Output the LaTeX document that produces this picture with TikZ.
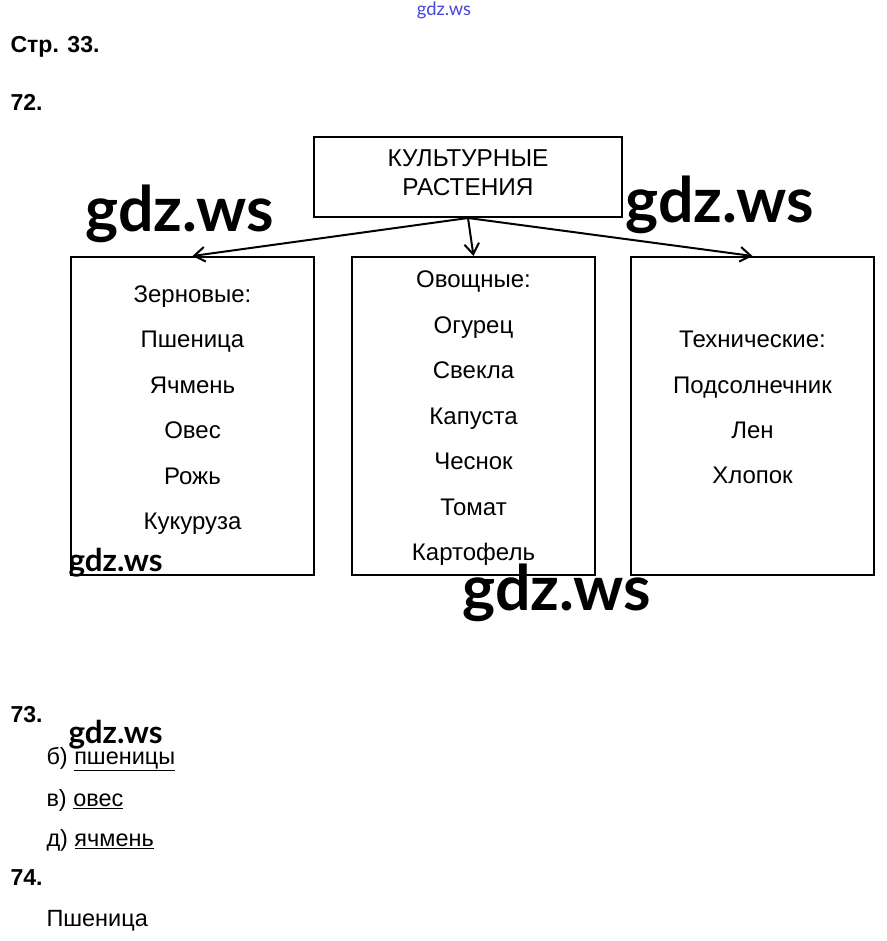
\documentclass[tikz,border=0pt]{standalone}
\usepackage{fontspec}
\setmainfont{Liberation Sans}
\newfontfamily\wmfont{Lato}
\usepackage{tikz}
\usetikzlibrary{arrows.meta}
\tikzset{every picture/.style={line width=0.75pt}}
\tikzset{
  frame/.style={draw, line width=1.5pt, inner sep=0pt},
  item/.style={anchor=base, inner sep=0pt, font=\fontsize{18pt}{21pt}\selectfont},
  head/.style={anchor=base, inner sep=0pt, font=\fontsize{18.3pt}{21pt}\selectfont},
  num/.style={anchor=base west, inner sep=0pt, font=\fontsize{17.3pt}{20pt}\selectfont\bfseries},
  answer/.style={anchor=base west, inner sep=0pt, font=\fontsize{17.6pt}{20pt}\selectfont},
  stamp/.style={anchor=base west, inner sep=0pt, font=\fontsize{47pt}{52pt}\selectfont\wmfont\bfseries},
  stampsmall/.style={anchor=base west, inner sep=0pt, font=\fontsize{23.5pt}{26pt}\selectfont\wmfont\bfseries},
  link/.style={-{Straight Barb[length=8pt,width=11pt]}, line width=1.5pt}
}

\begin{document}
\begin{tikzpicture}[x=0.75pt,y=0.75pt,yscale=-1]
		%set diagram to the size of the page
		\fill[white] (0,0) rectangle (887,941);
		\useasboundingbox (0,0) rectangle (887,941);
		
		%Shape: Rectangle [id:top]
		\node[frame, minimum width=231pt, minimum height=60pt] (plants) at (468,177) {};
		%Shape: Rectangle [id:left]
		\node[frame, minimum width=182.25pt, minimum height=238.5pt] (grain) at (192.5,416) {};
		%Shape: Rectangle [id:middle]
		\node[frame, minimum width=182.25pt, minimum height=238.5pt] (veg) at (473.5,416) {};
		%Shape: Rectangle [id:right]
		\node[frame, minimum width=182.25pt, minimum height=238.5pt] (tech) at (752.5,416) {};
		
		%Straight Lines [id:arrows]
		\draw[link] (plants.south) -- (grain.north);
		\draw[link] (plants.south) -- (veg.north);
		\draw[link] (plants.south) -- (tech.north);
		
		% Text Node
		\node[head] (t1) at (468,167) {КУЛЬТУРНЫЕ};
		% Text Node
		\node[head] (t2) at (468,196) {РАСТЕНИЯ};
		
		% Text Node
		\node[item] (g0) at (192.5,302) {Зерновые:};
		\node[item] (g1) at (192.5,347) {Пшеница};
		\node[item] (g2) at (192.5,393) {Ячмень};
		\node[item] (g3) at (192.5,438) {Овес};
		\node[item] (g4) at (192.5,484) {Рожь};
		\node[item] (g5) at (192.5,529) {Кукуруза};
		
		% Text Node
		\node[item] (v0) at (473.5,287) {Овощные:};
		\node[item] (v1) at (473.5,333) {Огурец};
		\node[item] (v2) at (473.5,378) {Свекла};
		\node[item] (v3) at (473.5,424) {Капуста};
		\node[item] (v4) at (473.5,469) {Чеснок};
		\node[item] (v5) at (473.5,515) {Томат};
		\node[item] (v6) at (473.5,560) {Картофель};
		
		% Text Node
		\node[item] (c0) at (752.5,347) {Технические:};
		\node[item] (c1) at (752.5,393) {Подсолнечник};
		\node[item] (c2) at (752.5,438) {Лен};
		\node[item] (c3) at (752.5,483) {Хлопок};
		
		% Text Node
		\node[num] (page) at (10,53) {Стр. 33.};
		\node[num] (n72) at (10,111) {72.};
		\node[num] (n73) at (10,722) {73.};
		\node[num] (n74) at (10,885) {74.};
		
		% Text Node
		\node[answer] (a1) at (46,764) {б) \underline{пшеницы}};
		\node[answer] (a2) at (46,806) {в) \underline{овес}};
		\node[answer] (a3) at (46,846) {д) \underline{ячмень}};
		\node[answer] (a4) at (46,926) {Пшеница};
		
		% Text Node
		\node[anchor=base, inner sep=0pt, font=\fontsize{13.8pt}{15pt}\selectfont\wmfont, text={rgb,255:red,70;green,70;blue,220}] (w0) at (444,16) {gdz.ws};
		\node[stamp] (w1) at (85,232) {gdz.ws};
		\node[stamp] (w2) at (625,223) {gdz.ws};
		\node[stamp] (w3) at (462,610) {gdz.ws};
		\node[stampsmall] (w4) at (68,571) {gdz.ws};
		\node[stampsmall] (w5) at (68,743) {gdz.ws};
\end{tikzpicture}
\end{document}
